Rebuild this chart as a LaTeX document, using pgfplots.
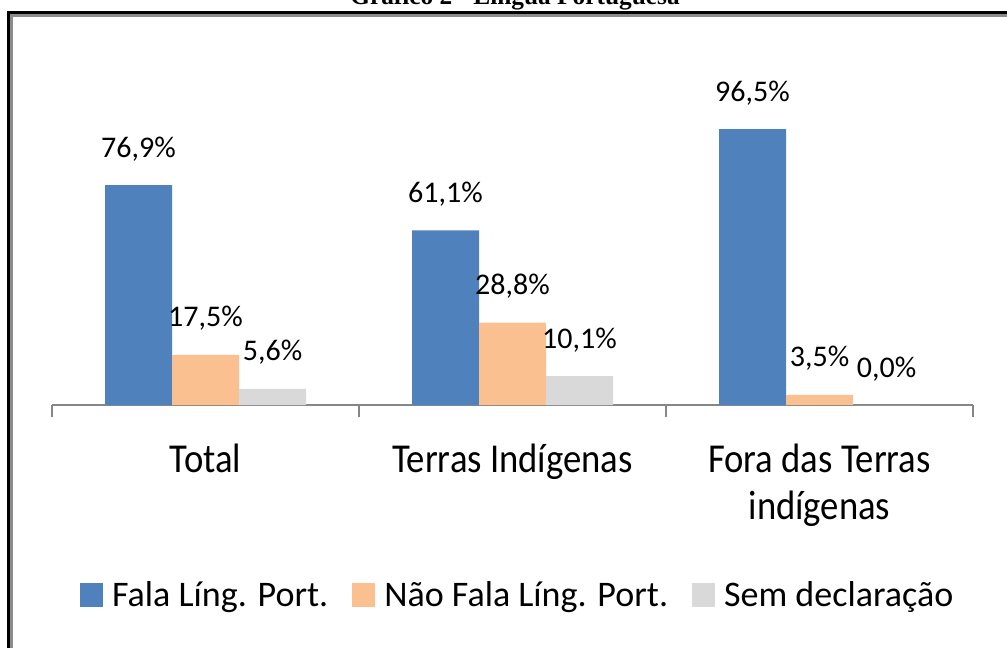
\documentclass[border=0pt]{standalone}
\usepackage{pgfplots}
\pgfplotsset{compat=1.18}
\usepackage{fontspec}
\setmainfont{Carlito}
\newfontfamily\titlefont{Liberation Serif}
\definecolor{cblue}{RGB}{79,129,189}
\definecolor{corange}{RGB}{250,192,143}
\definecolor{cgray}{RGB}{217,217,217}
\definecolor{axgray}{RGB}{134,134,134}
\newcommand{\tl}[1]{\scalebox{1}[1.12]{\begin{tabular}[t]{@{}c@{}}#1\end{tabular}}}
\begin{document}
\begin{tikzpicture}
\useasboundingbox (0,0) rectangle (755.25pt,-486pt);
\draw[black,line width=2.25pt] (6.375pt,-9.375pt) rectangle (772pt,-500pt);
\draw[black!45,line width=2.25pt] (8.625pt,-11.625pt) rectangle (769.75pt,-497.75pt);
\node[anchor=base,font=\titlefont\bfseries\fontsize{19}{22}\selectfont,inner sep=0pt] at (386.25pt,-3.75pt) {Gráfico 2 - Língua Portuguesa};
\begin{axis}[
  at={(39pt,-303.75pt)}, anchor=south west,
  scale only axis, width=690.75pt, height=214.5pt,
  xmin=-0.5, xmax=2.5, ymin=0, ymax=100,
  clip=false,
  axis y line=none,
  axis x line=bottom,
  x axis line style={-,draw=axgray,line width=1.5pt},
  ybar=0pt, bar width=50.25pt,
  xtick={0,1,2},
  xticklabels={{\tl{Total}}, {\tl{Terras Indígenas}}, {\tl{Fora das Terras\\indígenas}}},
  minor xtick={-0.5,0.5,1.5,2.5},
  major tick length=0pt, minor tick length=9pt,
  tick align=outside,
  tick style={draw=axgray,line width=1.5pt},
  xticklabel style={font=\fontsize{27.5}{32}\selectfont, anchor=base, yshift=-50.25pt, inner sep=0pt},
  nodes near coords={\pgfmathprintnumber[fixed,fixed zerofill,precision=1,use comma,assume math mode=true]{\pgfplotspointmeta}\%},
  nodes near coords style={font=\fontsize{22.5}{24}\selectfont, anchor=base, yshift=21pt, inner sep=0pt, text=black},
  legend columns=-1,
  legend style={at={(0.506,-0.664)}, anchor=center, draw=none, fill=none,
    font=\fontsize{27}{30}\selectfont,
    /tikz/every odd column/.append style={column sep=4.75pt},
    /tikz/every even column/.append style={column sep=16pt}},
  legend image code/.code={\path[#1,draw=none] (0pt,-9pt) rectangle (17.25pt,9pt);},
]
\addplot[fill=cblue, draw=none] coordinates {(0,76.9) (1,61.1) (2,96.5)};
\addplot[fill=corange, draw=none] coordinates {(0,17.5) (1,28.8) (2,3.5)};
\addplot[fill=cgray, draw=none] coordinates {(0,5.6) (1,10.1) (2,0.0)};
\legend{Fala Líng. Port., Não Fala Líng. Port., Sem declaração}
\end{axis}
\end{tikzpicture}
\end{document}
